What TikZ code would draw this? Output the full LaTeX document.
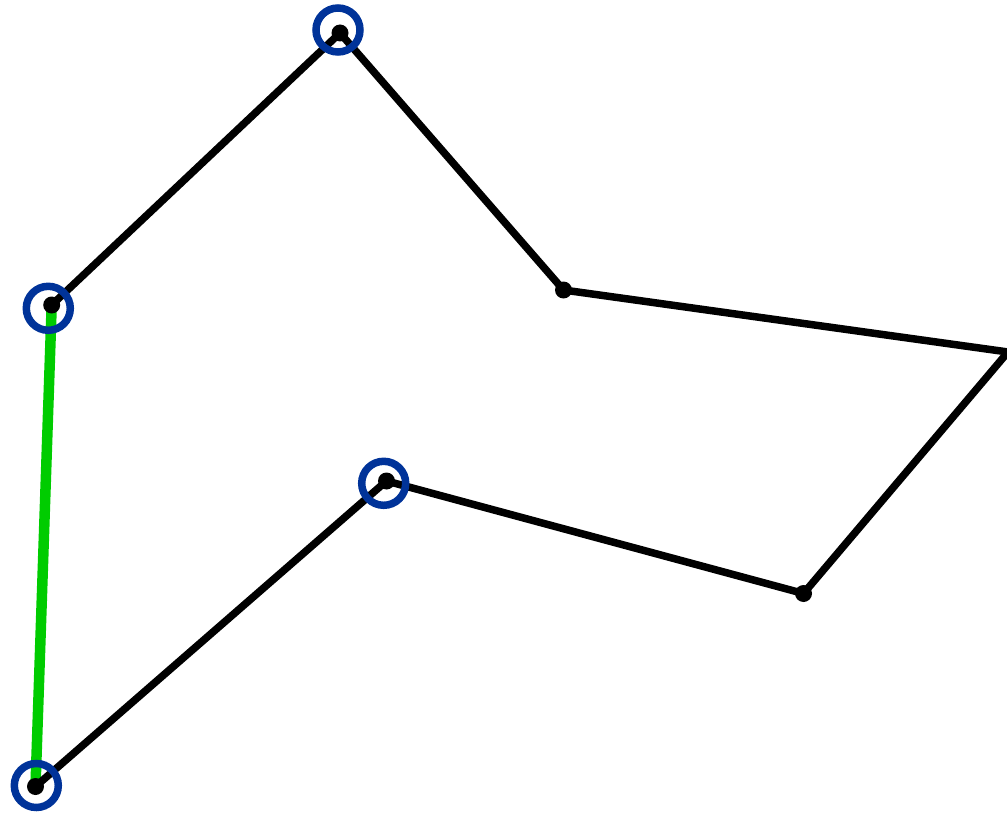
\documentclass[tikz,border=0pt]{standalone}
\definecolor{ringblue}{RGB}{0,51,153}
\definecolor{edgegreen}{RGB}{0,204,0}
\tikzset{
  edge/.style={line width=7.5pt, black, line join=round, line cap=round},
  greenedge/.style={line width=10.5pt, edgegreen},
  vdot/.style={circle, fill=black, inner sep=0pt, minimum size=17pt},
  ring/.style={circle, draw=ringblue, line width=7.5pt, inner sep=0pt, minimum size=44pt}
}
\begin{document}
\begin{tikzpicture}[x=1pt,y=-1pt]
\useasboundingbox (0,0) rectangle (1007,813);
\clip (0,0) rectangle (1007,813);
\coordinate (A) at (51.7,305);
\coordinate (B) at (340,33);
\coordinate (C) at (563.5,290);
\coordinate (D) at (1008,352);
\coordinate (E) at (803.5,593.5);
\coordinate (F) at (386.5,481);
\coordinate (G) at (35.5,786.5);
\draw[greenedge] (A) -- (G);
\draw[edge] (A) -- (B) -- (C) -- (D) -- (E) -- (F) -- (G);
\foreach \p in {A,B,C,E,F,G} \node[vdot] at (\p) {};
\node[ring] (rA) at (48.3,308.3) {};
\node[ring] (rB) at (338,30) {};
\node[ring] (rF) at (383.7,483.3) {};
\node[ring] (rG) at (36.3,785.5) {};
\end{tikzpicture}
\end{document}
